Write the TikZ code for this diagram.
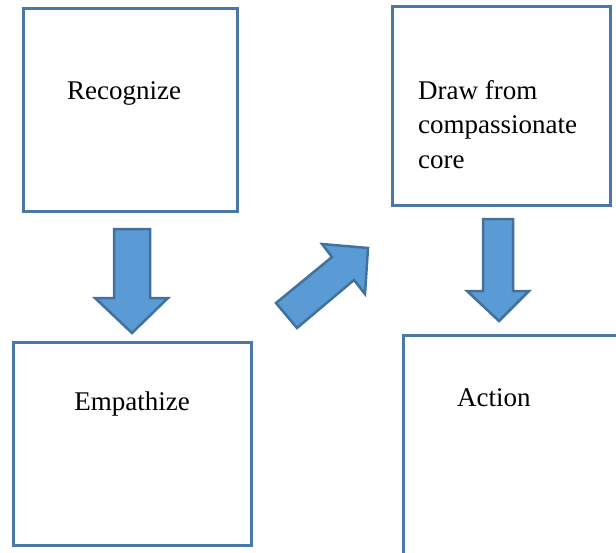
\documentclass[tikz,border=0pt]{standalone}
\usepackage{fontspec}
\setmainfont{Liberation Serif}
\definecolor{boxline}{RGB}{74,120,168}
\definecolor{arrfill}{RGB}{91,155,213}
\definecolor{arrline}{RGB}{65,113,156}
\tikzset{
  stepbox/.style={draw=boxline, line width=3pt, fill=white},
  lbl/.style={font=\fontsize{27}{34.5}\selectfont, inner sep=0pt, text=black},
  blockarrow/.style={fill=arrfill, draw=arrline, line width=2.5pt, line join=miter}
}
\begin{document}
\begin{tikzpicture}[x=1pt,y=-1pt]
\useasboundingbox (0,0) rectangle (616,552);
\clip (0,0) rectangle (616,552);
% boxes
\draw[stepbox] (23,8) rectangle (237,211);
\draw[stepbox] (13,342) rectangle (251,545);
\draw[stepbox] (392,6) rectangle (610,205);
\draw[stepbox] (403,335) rectangle (630,570);
% texts
\node[lbl, anchor=base] (t1) at (124,99) {Recognize};
\node[lbl, anchor=base] (t2) at (132,410) {Empathize};
\node[lbl, anchor=base west, align=left] (t3) at (418,168) {Draw from\\compassionate\\core};
\node[lbl, anchor=base west] (t4) at (457,406) {Action};
% block arrows
\draw[blockarrow] (114,229) -- (150,229) -- (150,298) -- (168,298) -- (132,333) -- (95,298) -- (114,298) -- cycle;
\draw[blockarrow] (276,303) -- (332,257) -- (322,244) -- (368,248) -- (365,294) -- (354,280) -- (297,328) -- cycle;
\draw[blockarrow] (483,219) -- (513,219) -- (513,291) -- (529,291) -- (499,321) -- (467,291) -- (483,291) -- cycle;
\end{tikzpicture}
\end{document}
